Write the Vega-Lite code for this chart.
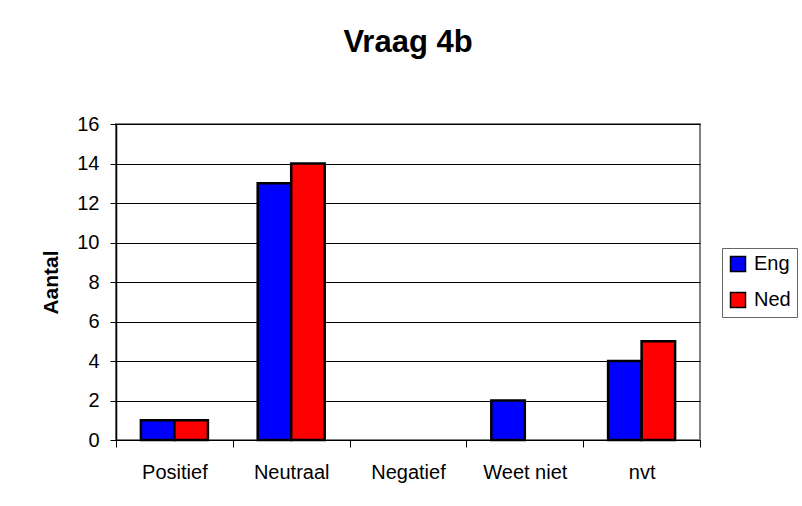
{
  "$schema": "https://vega.github.io/schema/vega-lite/v6.json",
  "width": 584,
  "height": 316,
  "autosize": {"type": "none"},
  "padding": {"left": 116, "top": 124, "right": 102, "bottom": 66},
  "background": "white",
  "title": {
    "text": "Vraag 4b",
    "font": "Liberation Sans",
    "fontSize": 31,
    "fontWeight": "bold",
    "color": "black",
    "anchor": "middle",
    "frame": "group",
    "baseline": "alphabetic",
    "offset": 31
  },
  "data": {
    "values": [
      {"Antwoord": "Positief", "Taal": "Eng", "Aantal": 1},
      {"Antwoord": "Positief", "Taal": "Ned", "Aantal": 1},
      {"Antwoord": "Neutraal", "Taal": "Eng", "Aantal": 13},
      {"Antwoord": "Neutraal", "Taal": "Ned", "Aantal": 14},
      {"Antwoord": "Negatief", "Taal": "Eng", "Aantal": 0},
      {"Antwoord": "Negatief", "Taal": "Ned", "Aantal": 0},
      {"Antwoord": "Weet niet", "Taal": "Eng", "Aantal": 2},
      {"Antwoord": "Weet niet", "Taal": "Ned", "Aantal": 0},
      {"Antwoord": "nvt", "Taal": "Eng", "Aantal": 4},
      {"Antwoord": "nvt", "Taal": "Ned", "Aantal": 5}
    ]
  },
  "mark": {"type": "bar", "stroke": "black", "strokeWidth": 2.5},
  "encoding": {
    "x": {
      "field": "Antwoord",
      "type": "nominal",
      "sort": ["Positief", "Neutraal", "Negatief", "Weet niet", "nvt"],
      "scale": {"paddingInner": 0, "paddingOuter": 0},
      "axis": {
        "title": null,
        "labelAngle": 0,
        "tickBand": "extent",
        "grid": false,
        "domainColor": "black",
        "domainWidth": 1,
        "tickColor": "black",
        "tickSize": 7,
        "labelPadding": 15,
        "labelFont": "Liberation Sans",
        "labelFontSize": 20,
        "labelColor": "black"
      }
    },
    "xOffset": {
      "field": "Taal",
      "type": "nominal",
      "scale": {"paddingInner": 0, "paddingOuter": 0.743}
    },
    "y": {
      "field": "Aantal",
      "type": "quantitative",
      "scale": {"domain": [0, 16]},
      "axis": {
        "title": "Aantal",
        "titleFont": "Liberation Sans",
        "titleFontSize": 21,
        "titleFontWeight": "bold",
        "titleColor": "black",
        "titlePadding": 15,
        "values": [0, 2, 4, 6, 8, 10, 12, 14, 16],
        "grid": true,
        "gridColor": "black",
        "gridWidth": 1,
        "domainColor": "black",
        "domainWidth": 1.5,
        "tickColor": "black",
        "tickSize": 6,
        "labelPadding": 11,
        "labelFont": "Liberation Sans",
        "labelFontSize": 20,
        "labelColor": "black"
      }
    },
    "color": {
      "field": "Taal",
      "type": "nominal",
      "scale": {"domain": ["Eng", "Ned"], "range": ["#0000FF", "#FF0000"]},
      "legend": {
        "title": null,
        "orient": "none",
        "legendX": 606,
        "legendY": 124,
        "padding": 6,
        "strokeColor": "#666666",
        "fillColor": "white",
        "symbolType": "square",
        "symbolSize": 225,
        "symbolStrokeColor": "black",
        "symbolStrokeWidth": 1.5,
        "symbolOpacity": 1,
        "labelFont": "Liberation Sans",
        "labelFontSize": 20,
        "labelColor": "black",
        "labelOffset": 6,
        "rowPadding": 14
      }
    },
    "strokeOpacity": {
      "condition": {"test": "datum.Aantal == 0", "value": 0},
      "value": 1
    }
  },
  "config": {
    "view": {"stroke": "#808080", "strokeWidth": 2}
  }
}
